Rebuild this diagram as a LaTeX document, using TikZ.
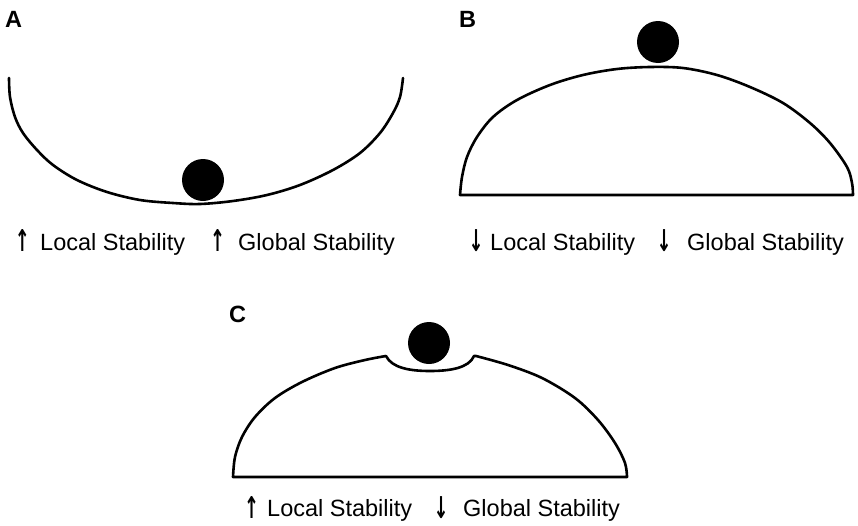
\documentclass[tikz,border=0pt]{standalone}
\usepackage{fontspec}
\usepackage{graphicx}
\setmainfont{Liberation Sans}
\newfontfamily\arrowfont{DejaVu Sans}
\newcommand{\myarrow}[1]{\resizebox*{15pt}{22pt}{\arrowfont\bfseries #1}}
\begin{document}
\begin{tikzpicture}[x=1pt,y=-1pt,
  curve/.style={line width=2.6pt, line join=round, line cap=round},
  ball/.style={circle, fill=black, minimum size=42pt, inner sep=0pt},
  lbl/.style={anchor=base west, inner sep=0pt, font=\fontsize{23.5}{28}\selectfont},
  arr/.style={anchor=south, inner sep=0pt},
  panel/.style={anchor=base west, inner sep=0pt, font=\fontsize{23.5}{28}\selectfont\bfseries}]
\useasboundingbox (0,0) rectangle (858,525);

% Panel A
\node[panel] (labA) at (5,27) {A};
\draw[curve] plot[smooth, tension=0.55] coordinates {(9,78) (10,97) (15,117) (23,133) (37,150) (53,165) (77,180) (107,192) (140,200) (173,203) (200,204) (233,201) (267,195) (300,185) (333,170) (360,153) (380,133) (393,113) (400,97) (403,78)};
\node[ball] (ballA) at (203,180) {};
\node[arr] (a1) at (22.5,252) {\myarrow{↑}};
\node[lbl] (tA1) at (40,250) {Local Stability};
\node[arr] (a2) at (217.5,252) {\myarrow{↑}};
\node[lbl] (tA2) at (238,250) {Global Stability};

% Panel B
\node[panel] (labB) at (459,27) {B};
\draw[curve] plot[smooth, tension=0.55] coordinates {(460,195) (462,177) (467,157) (477,137) (493,117) (517,100) (550,85) (583,75) (617,69) (650,67) (683,68) (717,75) (750,87) (783,103) (810,123) (830,143) (847,167) (852,183) (853,195)} -- cycle;
\node[ball] (ballB) at (658,42) {};
\node[arr] (b1) at (476,252) {\myarrow{↓}};
\node[lbl] (tB1) at (490,250) {Local Stability};
\node[arr] (b2) at (664,252) {\myarrow{↓}};
\node[lbl] (tB2) at (687,250) {Global Stability};

% Panel C
\node[panel] (labC) at (229,322) {C};
\draw[curve] plot[smooth, tension=0.55] coordinates {(233,477) (235,457) (242,437) (255,417) (275,398) (302,382) (335,368) (365,360) (386,356)}
  .. controls (392,368) and (410,371) .. (430,371)
  .. controls (450,371) and (469,368) .. (474,356)
  -- plot[smooth, tension=0.55] coordinates {(476,356) (508,365) (542,378) (575,398) (598,420) (615,443) (625,463) (627,477)} -- cycle;
\node[ball] (ballC) at (429,343) {};
\node[arr] (c1) at (251.5,519) {\myarrow{↑}};
\node[lbl] (tC1) at (267,516) {Local Stability};
\node[arr] (c2) at (441,519) {\myarrow{↓}};
\node[lbl] (tC2) at (463,516) {Global Stability};
\end{tikzpicture}
\end{document}
